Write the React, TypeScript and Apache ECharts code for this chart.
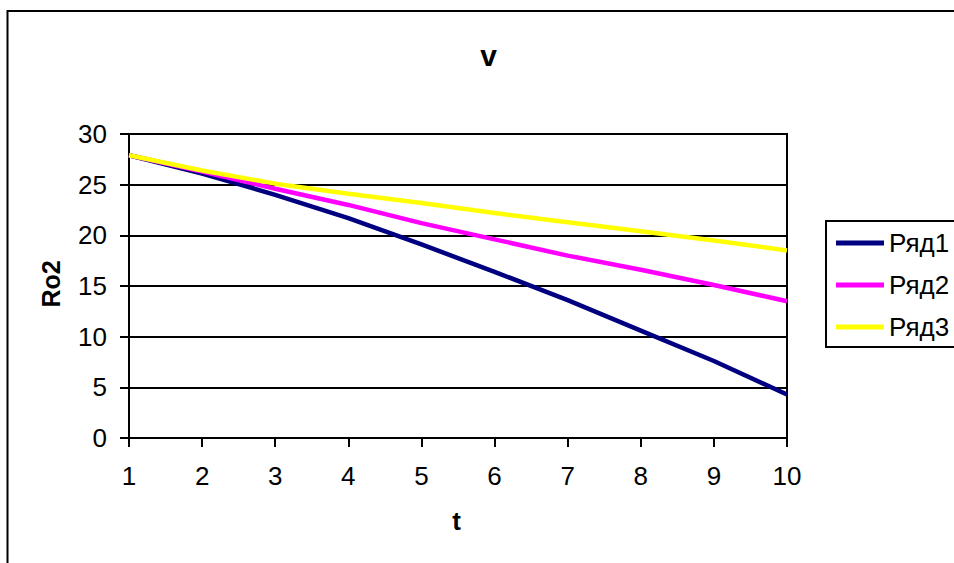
import React, { useEffect, useRef } from "react";
import * as echarts from "echarts";

const categories = ["1", "2", "3", "4", "5", "6", "7", "8", "9", "10"];
const ryad1 = [27.9, 26.1, 24.0, 21.7, 19.1, 16.4, 13.6, 10.6, 7.6, 4.3];
const ryad2 = [27.9, 26.3, 24.6, 23.0, 21.2, 19.6, 18.0, 16.6, 15.1, 13.5];
const ryad3 = [27.9, 26.4, 25.1, 24.1, 23.2, 22.2, 21.3, 20.4, 19.5, 18.5];
const seriesNames = ["Ряд1", "Ряд2", "Ряд3"];
const seriesColors = ["#000080", "#FF00FF", "#FFFF00"];
const titleText = "v";
const xName = "t";
const yName = "Ro2";

const FONT = "'Liberation Sans', Arial, sans-serif";

export default function App() {
  const ref = useRef<HTMLDivElement>(null);
  useEffect(() => {
    if (!ref.current) return;
    const chart = echarts.init(ref.current, undefined, { renderer: "svg" });
    const values = [ryad1, ryad2, ryad3];
    chart.setOption({
      animation: false,
      backgroundColor: "#ffffff",
      textStyle: { fontFamily: FONT },
      grid: {
        left: 129,
        top: 134,
        width: 658,
        height: 304,
        show: true,
        borderColor: "#000",
        borderWidth: 2,
        backgroundColor: "transparent",
      },
      graphic: [
        {
          type: "rect",
          shape: { x: 7.5, y: 11, width: 1000, height: 600 },
          style: { fill: "none", stroke: "#000", lineWidth: 2 },
          silent: true,
          z: -10,
        },
        {
          type: "text",
          x: 488.5,
          y: 55,
          style: {
            text: titleText,
            fontFamily: FONT,
            fontSize: 30,
            fontWeight: "bold",
            fill: "#000",
            textAlign: "center",
            textVerticalAlign: "middle",
          },
        },
        {
          type: "text",
          x: 456.5,
          y: 521,
          style: {
            text: xName,
            fontFamily: FONT,
            fontSize: 26,
            fontWeight: "bold",
            fill: "#000",
            textAlign: "center",
            textVerticalAlign: "middle",
          },
        },
        {
          type: "text",
          x: 51,
          y: 284,
          rotation: Math.PI / 2,
          style: {
            text: yName,
            fontFamily: FONT,
            fontSize: 25,
            fontWeight: "bold",
            fill: "#000",
            textAlign: "center",
            textVerticalAlign: "middle",
          },
        },
      ],
      legend: {
        orient: "vertical",
        left: 826,
        top: 221,
        padding: [9, 40, 7, 10],
        itemGap: 16,
        itemWidth: 48,
        itemHeight: 5,
        icon: "rect",
        borderColor: "#000",
        borderWidth: 2,
        textStyle: { fontFamily: FONT, fontSize: 26, color: "#000" },
        data: seriesNames,
      },
      xAxis: {
        type: "category",
        data: categories,
        boundaryGap: false,
        axisLine: { lineStyle: { color: "#000", width: 2 } },
        axisTick: { show: true, inside: false, length: 9, lineStyle: { color: "#000", width: 2 } },
        axisLabel: { color: "#000", fontSize: 26, fontFamily: FONT, margin: 25 },
        splitLine: { show: false },
      },
      yAxis: {
        type: "value",
        min: 0,
        max: 30,
        interval: 5,
        axisLine: { show: true, lineStyle: { color: "#000", width: 2 } },
        axisTick: { show: true, inside: false, length: 9, lineStyle: { color: "#000", width: 2 } },
        axisLabel: { color: "#000", fontSize: 26, fontFamily: FONT, margin: 22 },
        splitLine: { show: true, lineStyle: { color: "#000", width: 2 } },
      },
      series: values.map((v, i) => ({
        name: seriesNames[i],
        type: "line",
        data: v,
        showSymbol: false,
        symbol: "none",
        color: seriesColors[i],
        lineStyle: { color: seriesColors[i], width: 4.5 },
      })),
    });
    return () => chart.dispose();
  }, []);
  return (
    <div
      ref={ref}
      style={{ position: "absolute", left: 0, top: 0, width: 954, height: 563 }}
    />
  );
}
